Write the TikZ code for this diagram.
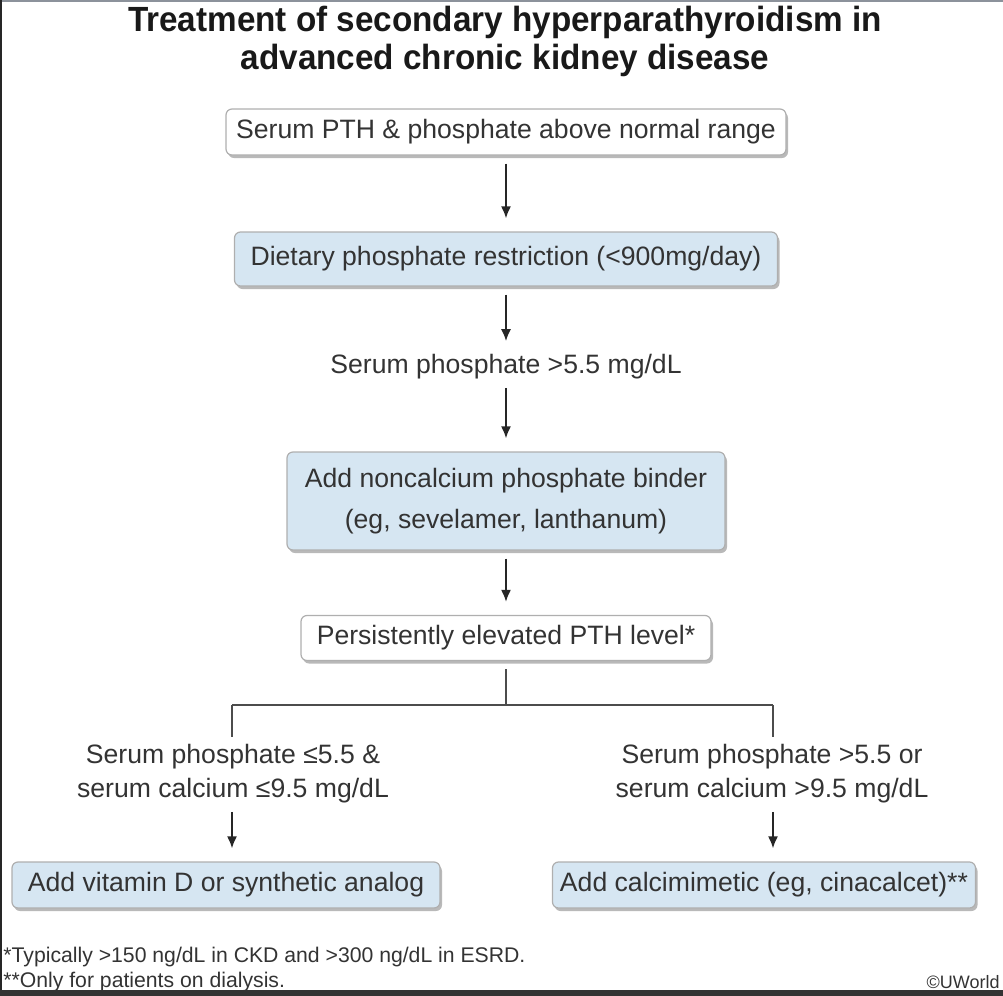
\documentclass[tikz,border=0pt]{standalone}
\usepackage{fontspec}
\setmainfont{Liberation Sans}
\usepackage{pgf, tikz}
\usetikzlibrary{positioning}
\usetikzlibrary{arrows.meta, shadows}
\usepackage{xcolor}
\definecolor{boxblue}{RGB}{214,230,242}
\definecolor{txt}{RGB}{51,51,51}
\definecolor{rim}{RGB}{175,175,175}
\definecolor{framegray}{RGB}{140,146,155}

\begin{document}
\begin{tikzpicture}[x=0.5pt, y=-0.5pt, >={Latex[length=6pt,width=5pt]},
  box/.style = {draw=rim, line width=0.6pt, rounded corners=3pt, fill=white, text=txt,
    font=\fontsize{13.3}{20.5}\selectfont, align=center, minimum height=23pt,
    drop shadow={shadow xshift=1pt, shadow yshift=-1.5pt, opacity=0.5, fill=black!55}},
  bluebox/.style = {box, fill=boxblue},
  cond/.style = {text=txt, font=\fontsize{13.3}{17}\selectfont, align=center, inner sep=0pt},
  foot/.style = {text=txt, font=\fontsize{10.6}{12}\selectfont, inner sep=0pt},
  arr/.style = {->, line width=0.9pt, black!85, shorten <=4pt, shorten >=6.5pt},
  branch/.style = {line width=0.9pt, black!70}]
\useasboundingbox (0,0) rectangle (1003,996);
% screenshot frame
\fill[framegray] (0,0) rectangle (1003,2);
\fill[black!85] (0,0) rectangle (2,996);
\fill[black!80] (0,990) rectangle (1003,996);

\node[font=\addfontfeature{FakeStretch=0.95}\fontsize{17.5}{19}\selectfont\bfseries, align=center, text=black!90] (title) at (505,41)
  {Treatment of secondary hyperparathyroidism in\\advanced chronic kidney disease};

\node[box, minimum width=280pt] (start) at (506,132) {Serum PTH \& phosphate above normal range};
\node[bluebox, minimum width=271.5pt, minimum height=27pt] (diet) at (506,259) {Dietary phosphate restriction (<900mg/day)};
\node[cond] (phos) at (506,367) {Serum phosphate >5.5 mg/dL};
\node[bluebox, minimum width=219pt, minimum height=49pt] (binder) at (506,501) {Add noncalcium phosphate binder\\(eg, sevelamer, lanthanum)};
\node[box, minimum width=205pt, minimum height=22.5pt] (pth) at (506,638) {Persistently elevated PTH level*};

\coordinate (split) at (506,705);
\coordinate (bl) at (232,705);
\coordinate (br) at (773,705);
\node[cond] (condl) at (233,774) {Serum phosphate ≤5.5 \&\\serum calcium ≤9.5 mg/dL};
\node[cond] (condr) at (772,774) {Serum phosphate >5.5 or\\serum calcium >9.5 mg/dL};

\node[bluebox, minimum width=214pt] (vitd) at (226,885) {Add vitamin D or synthetic analog};
\node[bluebox, minimum width=211.5pt] (calci) at (764,885) {Add calcimimetic (eg, cinacalcet)**};

\node[foot, anchor=west] (fn1) at (3,957) {*Typically >150 ng/dL in CKD and >300 ng/dL in ESRD.};
\node[foot, anchor=west] (fn2) at (3,982) {**Only for patients on dialysis.};
\node[foot, anchor=east, font=\fontsize{9}{10}\selectfont] (uw) at (1000,982) {©UWorld};

\path (start) edge [arr] (diet);
\path (diet) edge [arr] (phos);
\path (phos) edge [arr] (binder);
\path (binder) edge [arr] (pth);
\draw[branch, shorten <=4pt] (pth) -- (split);
\draw[branch] (bl) -- (br);
\draw[branch, shorten >=3.5pt] (bl) -- (bl |- condl.north);
\draw[branch, shorten >=3.5pt] (br) -- (br |- condr.north);
\draw[arr] (condl.south -| bl) -- (bl |- vitd.north);
\draw[arr] (condr.south -| br) -- (br |- calci.north);
\end{tikzpicture}
\end{document}
